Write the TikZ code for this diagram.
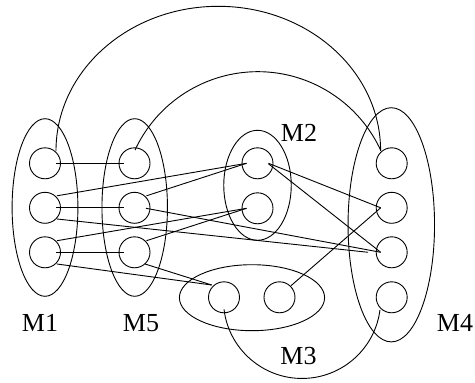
\documentclass[tikz,border=0pt]{standalone}
\usepackage{fontspec}
\setmainfont{Liberation Serif}
\usetikzlibrary{shapes.geometric}
\begin{document}
\begin{tikzpicture}[x=1pt,y=-1pt,line width=0.9pt,
  vtx/.style={draw,circle,minimum size=31pt,inner sep=0pt},
  grp/.style={draw,ellipse,inner sep=0pt},
  lbl/.style={font=\rmfamily\fontsize{26}{30}\selectfont,anchor=base,inner sep=0pt}]
\useasboundingbox (0,0) rectangle (475,383);
% groups
\node[grp,minimum width=65.8pt,minimum height=177.6pt] (g1) at (45,207.5) {};
\node[grp,minimum width=65.5pt,minimum height=177.6pt] (g5) at (134.7,207.5) {};
\node[grp,minimum width=67.5pt,minimum height=110pt] (g2) at (257.5,185.3) {};
\node[grp,minimum width=86.5pt,minimum height=234.2pt] (g4) at (391.3,224.8) {};
\node[grp,minimum width=145.2pt,minimum height=66pt] (g3) at (252,297.7) {};
% vertices
\node[vtx] (m1a) at (45,163.3) {};
\node[vtx] (m1b) at (45,207.8) {};
\node[vtx] (m1c) at (45,252.3) {};
\node[vtx] (m5a) at (134.5,163.3) {};
\node[vtx] (m5b) at (134.5,207.8) {};
\node[vtx] (m5c) at (134.5,252.3) {};
\node[vtx] (m2a) at (257.5,163.3) {};
\node[vtx] (m2b) at (257.5,208.3) {};
\node[vtx] (m4a) at (391.7,163.3) {};
\node[vtx] (m4b) at (391.7,207.8) {};
\node[vtx] (m4c) at (391.7,252.3) {};
\node[vtx] (m4d) at (391.7,297.3) {};
\node[vtx] (m3a) at (224,297.3) {};
\node[vtx] (m3b) at (279.5,297.3) {};
% labels
\node[lbl] (l1) at (40,331) {M1};
\node[lbl] (l5) at (141,331) {M5};
\node[lbl] (l2) at (299,141.7) {M2};
\node[lbl] (l4) at (455,331.5) {M4};
\node[lbl] (l3) at (298.5,364) {M3};
% straight links
\draw ([shift={(11,0)}]m1a.center) -- ([shift={(-11,0)}]m5a.center);
\draw ([shift={(11,0)}]m1b.center) -- ([shift={(-11,0)}]m5b.center);
\draw ([shift={(11,0)}]m1c.center) -- ([shift={(-11,0)}]m5c.center);
\draw ([shift={(12,-12)}]m1b.center) -- ([shift={(-11,0)}]m2a.center);
\draw ([shift={(12,-12)}]m5b.center) -- ([shift={(-11,0)}]m2a.center);
\draw ([shift={(12,-11.6)}]m1c.center) -- ([shift={(-11,0)}]m2b.center);
\draw ([shift={(12,-11.6)}]m5c.center) -- ([shift={(-11,0)}]m2b.center);
\draw ([shift={(12,11.2)}]m1b.center) -- ([shift={(-23.5,0)}]m4c.center);
\draw ([shift={(11.5,0.5)}]m5b.center) -- ([shift={(-11,0)}]m4c.center);
\draw ([shift={(12,11.7)}]m1c.center) -- ([shift={(-12.3,-12.3)}]m3a.center);
\draw ([shift={(10.5,11.7)}]m5c.center) -- ([shift={(-12.3,-12.3)}]m3a.center);
\draw ([shift={(11,0)}]m2a.center) -- ([shift={(-11,0)}]m4b.center);
\draw ([shift={(11,0.5)}]m2a.center) -- ([shift={(-11,0)}]m4c.center);
\draw ([shift={(11.5,-11.6)}]m3b.center) -- ([shift={(-11,0)}]m4b.center);
% arcs
\draw ([shift={(11,-12.5)}]m1a.center) arc[start angle=180,end angle=360,x radius=162.3,y radius=144.5];
\draw ([shift={(0.5,-13.2)}]m5a.center) arc[start angle=204.9,end angle=335.1,radius=135.4];
\draw ([shift={(0,12)}]m3a.center) arc[start angle=173.1,end angle=7.4,radius=78.6];
\end{tikzpicture}
\end{document}
